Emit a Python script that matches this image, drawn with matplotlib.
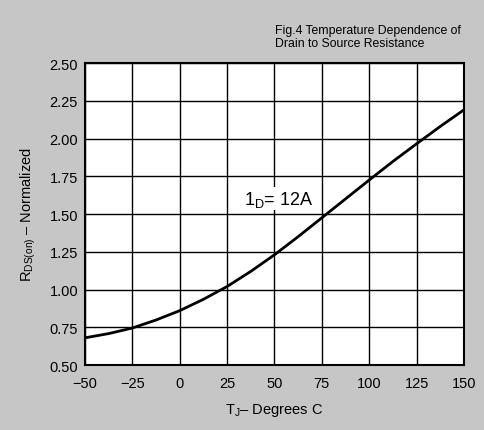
import matplotlib
matplotlib.use('Agg')
import matplotlib.pyplot as plt

# Temperatur data gelees van die grafiek
tj = [-50, -37.5, -25, -12.5, 0, 12.5, 25, 37.5, 50, 62.5, 75, 87.5, 100, 112.5, 125, 137.5, 150]
rds = [0.68, 0.708, 0.745, 0.798, 0.86, 0.935, 1.02, 1.12, 1.23, 1.35, 1.475, 1.60, 1.725, 1.848, 1.965, 2.08, 2.19]

x_ticks = [-50, -25, 0, 25, 50, 75, 100, 125, 150]
y_ticks = [0.50, 0.75, 1.00, 1.25, 1.50, 1.75, 2.00, 2.25, 2.50]

plt.rcParams['font.family'] = ['Liberation Sans', 'DejaVu Sans']
plt.rcParams['mathtext.fontset'] = 'custom'
plt.rcParams['mathtext.rm'] = 'Liberation Sans'
plt.rcParams['mathtext.it'] = 'Liberation Sans'

fig = plt.figure(figsize=(4.84, 4.31), dpi=100, facecolor='#c6c6c6')
ax = fig.add_axes([0.1756, 0.1508, 0.783, 0.7007])
ax.set_facecolor('white')

ax.plot(tj, rds, color='black', linewidth=2.0, zorder=3)

ax.set_xlim(-50, 150)
ax.set_ylim(0.5, 2.5)
ax.set_xticks(x_ticks)
ax.set_yticks(y_ticks)
ax.set_xticklabels([str(v) if v >= 0 else '\u2212' + str(-v) for v in x_ticks])
ax.set_yticklabels(['%.2f' % v for v in y_ticks])
ax.tick_params(length=0, labelsize=10.5, colors='black')
ax.tick_params(axis='x', pad=8)
ax.tick_params(axis='y', pad=5)
ax.grid(True, color='black', linewidth=1.0)
for s in ax.spines.values():
    s.set_linewidth(1.5)

ax.set_xlabel('T$_{\\mathrm{J}}$\u2013 Degrees C', fontsize=10.5, labelpad=8)
ax.set_ylabel('R$_{\\mathrm{DS(on)}}$ \u2013 Normalized', fontsize=10.5, labelpad=8)

ax.text(52, 1.60, '1$_{\\mathrm{D}}$= 12A', fontsize=13, ha='center', va='center',
        bbox=dict(facecolor='white', edgecolor='none', pad=1), zorder=2)

fig.text(0.569, 0.885, 'Fig.4 Temperature Dependence of\nDrain to Source Resistance',
         fontsize=8.8, ha='left', va='bottom', linespacing=1.05)

fig.savefig('out.png', dpi=100, facecolor=fig.get_facecolor())
